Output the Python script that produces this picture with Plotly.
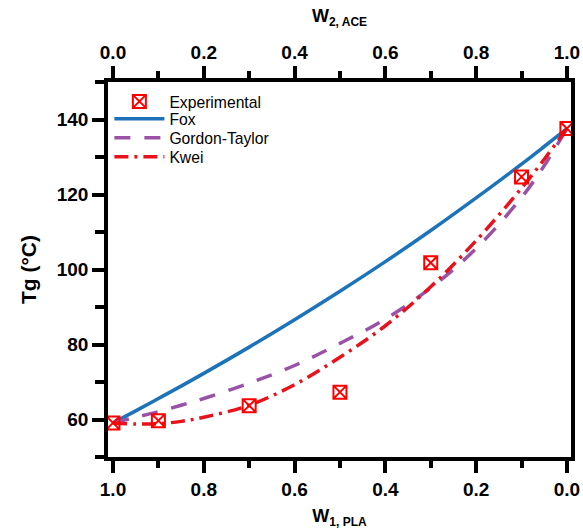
import plotly.graph_objects as go

# Experimental data (w1 = PLA weight fraction)
w1_exp = [1.0, 0.9, 0.7, 0.5, 0.3, 0.1, 0.0]
tg_exp = [59.1, 59.7, 63.7, 67.3, 101.8, 124.7, 137.6]

# Model curves
w1_fit = [1.0, 0.95, 0.9, 0.85, 0.8, 0.7, 0.6, 0.5, 0.4, 0.3, 0.2, 0.1, 0.05, 0.0]
tg_fox = [59.1, 62.3, 65.6, 68.9, 72.3, 79.3, 86.6, 94.2, 102.1, 110.4, 119.1, 128.1, 132.8, 137.6]
tg_gt = [59.1, 60.6, 62.1, 63.8, 65.6, 69.7, 74.4, 80.3, 86.8, 95.1, 105.6, 119.2, 127.7, 137.6]
tg_kwei = [59.1, 58.8, 58.9, 59.5, 60.6, 63.8, 69.3, 76.6, 85.0, 95.4, 107.7, 121.7, 129.4, 137.6]

x_ticks = [0.0, 0.2, 0.4, 0.6, 0.8, 1.0]

FONT = "Liberation Sans, Arial, sans-serif"
BLUE = "#1c73ba"
PURPLE = "#9a52a6"
RED = "#e8121a"
MRED = "#ff0000"

fig = go.Figure()
fig.add_trace(go.Scatter(x=w1_fit, y=tg_fox, mode="lines", name="Fox", legend="legend2",
                         line=dict(color=BLUE, width=3.5, shape="spline")))
fig.add_trace(go.Scatter(x=w1_fit, y=tg_gt, mode="lines", name="Gordon-Taylor", legend="legend3",
                         line=dict(color=PURPLE, width=3.5, dash="16px,14px", shape="spline")))
fig.add_trace(go.Scatter(x=w1_fit, y=tg_kwei, mode="lines", name="Kwei", legend="legend4",
                         line=dict(color=RED, width=3.5, dash="14px,6px,3px,6px", shape="spline")))
fig.add_trace(go.Scatter(x=w1_exp, y=tg_exp, mode="markers", name="Experimental", legend="legend",
                         marker=dict(symbol="square-x-open", size=13, color=MRED, line=dict(width=2, color=MRED))))
# invisible trace to activate top axis
fig.add_trace(go.Scatter(x=[1 - v for v in w1_exp], y=tg_exp, xaxis="x2", mode="markers",
                         marker=dict(opacity=0), showlegend=False, hoverinfo="skip"))

tickfont = dict(family=FONT, size=19, color="black", weight="bold")
axis_common = dict(showline=True, linecolor="black", linewidth=3.5, ticks="outside", ticklen=12,
                   tickwidth=3.5, tickcolor="black", tickfont=tickfont, showgrid=False, zeroline=False,
                   tickmode="array", tickvals=x_ticks, tickformat=".1f", automargin=False,
                   minor=dict(dtick=0.1, tick0=0, ticks="outside", ticklen=7, tickwidth=3.5, tickcolor="black"))

leg_common = dict(x=0.003, xanchor="left", yanchor="middle", bgcolor="rgba(0,0,0,0)",
                  font=dict(family=FONT, size=15.7, color="black"), itemwidth=50)

fig.update_layout(
    width=583, height=529,
    margin=dict(l=108, r=12, t=82, b=72),
    paper_bgcolor="white", plot_bgcolor="white",
    font=dict(family=FONT, color="black"),
    xaxis=dict(range=[1.011, -0.009],
               title=dict(text="W<sub><span style='font-size:12px'>1, PLA</span></sub>",
                          font=dict(family=FONT, size=18, weight="bold")),
               **axis_common),
    xaxis2=dict(range=[-0.011, 1.009], overlaying="x", side="top",
                title=dict(text="W<sub><span style='font-size:12px'>2, ACE</span></sub>",
                           font=dict(family=FONT, size=18, weight="bold")),
                **axis_common),
    yaxis=dict(range=[50, 150], showline=True, mirror=True, linecolor="black", linewidth=3.5,
               ticks="outside", ticklen=12, tickwidth=3.5, tickcolor="black", tickfont=tickfont,
               tick0=0, dtick=20, showgrid=False, zeroline=False, automargin=False,
               minor=dict(dtick=10, tick0=0, ticks="outside", ticklen=9, tickwidth=3.5, tickcolor="black"),
               title=dict(text="Tg (°C)", font=dict(family=FONT, size=21, weight="bold"))),
    legend=dict(y=0.9475, **leg_common),
    legend2=dict(y=0.9013, **leg_common),
    legend3=dict(y=0.8507, **leg_common),
    legend4=dict(y=0.80, **leg_common),
    showlegend=True,
)

fig.write_html("out.html")
